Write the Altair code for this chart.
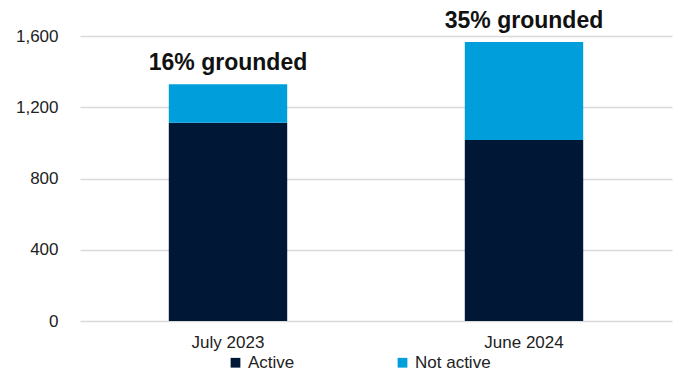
import altair as alt
import pandas as pd

# Fleet status counts per survey month
months = ["July 2023", "June 2024"]
active = [1113, 1016]
not_active = [216, 550]

statuses = ["Active", "Not active"]
colors = ["#011736", "#009FDC"]

rows = []
for m, a, n in zip(months, active, not_active):
    rows.append({"month": m, "status": "Active", "count": a, "ord": 0})
    rows.append({"month": m, "status": "Not active", "count": n, "ord": 1})
bars_df = pd.DataFrame(rows)

totals_df = pd.DataFrame({
    "month": months,
    "total": [a + n for a, n in zip(active, not_active)],
})
totals_df["label"] = [
    f"{round(100 * n / (a + n))}% grounded" for a, n in zip(active, not_active)
]

FONT = "Liberation Sans"

x_enc = alt.X(
    "month:N",
    sort=months,
    title=None,
    scale=alt.Scale(paddingInner=0.6, paddingOuter=0.3),
    axis=alt.Axis(labelAngle=0, ticks=False, domain=False, grid=False,
                  labelPadding=13, labelFontSize=17, labelColor="#222222",
                  labelFont=FONT),
)

bars = alt.Chart(bars_df).mark_bar().encode(
    x=x_enc,
    y=alt.Y(
        "count:Q",
        stack="zero",
        title=None,
        scale=alt.Scale(domain=[0, 1600], nice=False),
        axis=alt.Axis(values=[0, 400, 800, 1200, 1600], format=",d",
                      domain=False, ticks=False, labelPadding=22,
                      labelFontSize=17, labelColor="#222222", labelFont=FONT,
                      gridColor="#D9D9D9", gridWidth=1.5),
    ),
    color=alt.Color(
        "status:N",
        scale=alt.Scale(domain=statuses, range=colors),
        legend=alt.Legend(
            title=None, orient="none", direction="horizontal",
            legendX=147, legendY=318,
            symbolType="square", symbolSize=95, symbolStrokeWidth=0,
            labelFontSize=17, labelColor="#222222", labelFont=FONT,
            labelOffset=4, columnPadding=99,
        ),
    ),
    order=alt.Order("ord:Q"),
)

labels = alt.Chart(totals_df).mark_text(
    font=FONT, fontSize=23, fontWeight="bold", color="#111111",
    baseline="alphabetic", dy=-14,
).encode(
    x=alt.X("month:N", sort=months),
    y=alt.Y("total:Q"),
    text="label:N",
)

chart = (
    alt.layer(bars, labels)
    .properties(
        width=592,
        height=285,
        autosize=alt.AutoSizeParams(type="none"),
        padding={"left": 80, "top": 36, "right": 3, "bottom": 52},
        background="white",
    )
    .configure_view(strokeWidth=0, stroke="transparent")
    .configure_axisX(grid=False, domain=False)
    .configure_axisY(domain=False)
)

chart.save("out.html", embed_options={"renderer": "svg", "actions": False})
